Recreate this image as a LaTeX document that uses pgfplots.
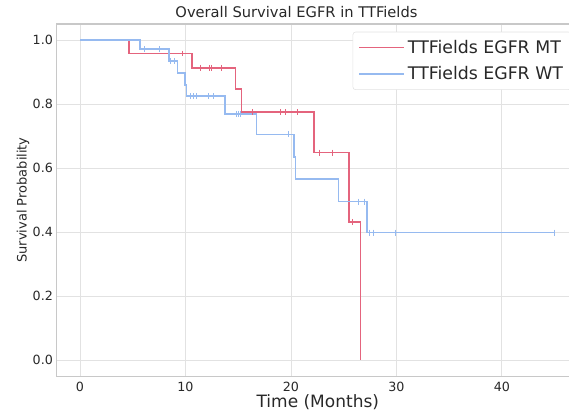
\documentclass[border=0pt]{standalone}
\usepackage{pgfplots}
\pgfplotsset{compat=1.18}
\usepackage{fontspec}
\setmainfont{DejaVu Sans}
\definecolor{mtred}{RGB}{228,100,125}
\definecolor{wtblue}{RGB}{150,186,240}
\definecolor{spine}{RGB}{200,200,200}
\definecolor{gridc}{RGB}{226,226,226}
\definecolor{txt}{RGB}{40,40,40}
\begin{document}
\begin{tikzpicture}
\begin{axis}[
    scale only axis,
    width=392.25pt, height=264pt,
    xmin=-2.25, xmax=47.35,
    ymin=-0.05, ymax=1.05,
    xtick={0,10,20,30,40},
    ytick={0,0.2,0.4,0.6,0.8,1.0},
    yticklabel style={/pgf/number format/fixed, /pgf/number format/fixed zerofill, /pgf/number format/precision=1},
    /pgf/number format/assume math mode=true,
    ticklabel style={font=\fontsize{9.5}{11}\selectfont, text=txt},
    major tick length=0pt,
    xticklabel style={yshift=-1pt},
    yticklabel style={xshift=1pt},
    grid=major, grid style={gridc, line width=0.6pt},
    axis line style={spine, line width=0.8pt},
    legend style={at={(rel axis cs:0.5667,0.978)}, anchor=north west,
        draw=gridc, rounded corners=2pt, fill=white,
        font=\fontsize{13}{15}\selectfont, text=txt, inner xsep=4pt, inner ysep=4pt,
        row sep=4.5pt},
    legend cell align=left,
    legend image code/.code={\draw[#1] (0pt,0pt) -- (26pt,0pt); \path (0pt,0pt) -- (34pt,0pt);},
]
% TTFields EGFR MT
\addplot[color=mtred, line width=1.25pt, const plot] coordinates {
(0,1) (4.67,0.958) (10.65,0.913) (14.75,0.846) (15.3,0.774) (22.2,0.648) (25.5,0.432) (26.6,0)
};
\addlegendentry{TTFields EGFR MT}
% TTFields EGFR WT
\addplot[color=wtblue, line width=1.25pt, const plot] coordinates {
(0,1) (5.69,0.972) (8.44,0.935) (9.26,0.896) (9.95,0.86) (10.1,0.825) (13.75,0.768)
(16.75,0.705) (20.3,0.635) (20.45,0.566) (24.5,0.495) (27.2,0.398) (45.0,0.398)
};
\addlegendentry{TTFields EGFR WT}
% censored points
\addplot[color=mtred, only marks, mark=|, mark size=2.2pt, mark options={line width=0.8pt}, forget plot] coordinates {
(9.7,0.958) (11.4,0.913) (12.3,0.913) (12.5,0.913) (13.4,0.913) (16.4,0.774) (19.0,0.774)
(19.5,0.774) (20.6,0.774) (22.75,0.648) (23.95,0.648) (25.85,0.432)
};
\addplot[color=wtblue, only marks, mark=|, mark size=2.2pt, mark options={line width=0.8pt}, forget plot] coordinates {
(6.1,0.972) (7.5,0.972) (8.6,0.935) (9.0,0.935) (10.5,0.825) (10.75,0.825) (11.05,0.825)
(12.2,0.825) (12.7,0.825) (14.8,0.768) (15.0,0.768) (15.2,0.768) (19.75,0.705)
(26.4,0.495) (27.0,0.495) (27.45,0.398) (27.8,0.398) (29.95,0.398) (45.0,0.398)
};
\end{axis}
\node[text=txt, font=\fontsize{11}{13}\selectfont, anchor=base] at ([xshift=-16pt, yshift=4.5pt]current axis.north) {Overall Survival EGFR in TTFields};
\node[text=txt, font=\fontsize{12.75}{15}\selectfont] at ([yshift=-19.5pt]current axis.south) {Time (Months)};
\node[text=txt, font=\fontsize{9.75}{12}\selectfont, rotate=90] at ([xshift=-25pt]current axis.west) {Survival Probability};
\pgfresetboundingbox
\path[use as bounding box] ([xshift=-42.2pt, yshift=-27.75pt]current axis.south west)
    rectangle ([xshift=384.5pt, yshift=18pt]current axis.north west);
\end{tikzpicture}
\end{document}
